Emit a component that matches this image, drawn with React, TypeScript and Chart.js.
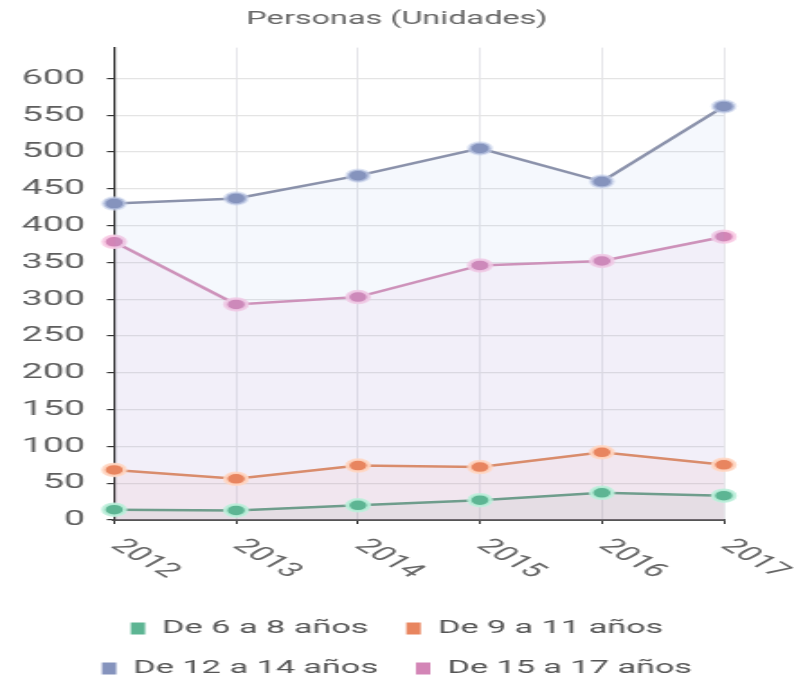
import React, { useEffect, useRef } from "react";
import { Chart, registerables } from "chart.js";

Chart.register(...registerables);

const years = ["2012", "2013", "2014", "2015", "2016", "2017"];
const seriesNames = ["De 6 a 8 años", "De 9 a 11 años", "De 12 a 14 años", "De 15 a 17 años"];
const age6to8 = [14, 13, 20, 27, 37, 33];
const age9to11 = [68, 56, 74, 72, 92, 75];
const age12to14 = [430, 437, 468, 505, 460, 562];
const age15to17 = [378, 293, 303, 346, 352, 385];
const yTickValues = [0, 50, 100, 150, 200, 250, 300, 350, 400, 450, 500, 550, 600];
const chartTitle = "Personas (Unidades)";

const pointColors = ["#5db593", "#e8855f", "#8593bd", "#d385b6"];
const lineColors = ["#6f9d8c", "#d98c6c", "#8b92ab", "#d48fb6"];
const haloColors = ["rgba(190,240,220,0.9)", "rgba(255,215,195,0.9)", "rgba(200,210,235,0.6)", "rgba(250,205,230,0.9)"];
const fillColors = ["rgba(120,135,130,0.10)", "rgba(235,140,140,0.09)", "rgba(140,175,230,0.09)", "rgba(215,140,200,0.09)"];

const CANVAS_W = 441;
const CANVAS_H = 684;
const FONT = "Roboto";

const rotatedXLabels = {
  id: "rotatedXLabels",
  afterDraw(chart: any) {
    const scale = chart.scales.x;
    const ctx = chart.ctx;
    ctx.save();
    ctx.font = `20px ${FONT}`;
    ctx.fillStyle = "#666";
    ctx.textAlign = "left";
    ctx.textBaseline = "middle";
    scale.ticks.forEach((t: any, i: number) => {
      const x = scale.getPixelForTick(i);
      ctx.save();
      ctx.translate(x + 1, scale.top + 23);
      ctx.rotate(Math.PI / 4);
      ctx.fillText(String(scale.getLabelForValue(t.value)), 0, 0);
      ctx.restore();
    });
    ctx.restore();
  },
};

export default function App() {
  const ref = useRef<HTMLCanvasElement | null>(null);

  useEffect(() => {
    if (!ref.current) return;
    const series = [age6to8, age9to11, age12to14, age15to17];
    const chart = new Chart(ref.current, {
      type: "line",
      data: {
        labels: years,
        datasets: series.map((d, i) => ({
          label: seriesNames[i],
          data: d,
          yAxisID: "y",
          borderColor: lineColors[i],
          backgroundColor: fillColors[i],
          borderWidth: 2.5,
          fill: "origin",
          tension: 0,
          pointRadius: 6,
          pointBackgroundColor: pointColors[i],
          pointBorderColor: haloColors[i],
          pointBorderWidth: 2.5,
        })),
      },
      options: {
        responsive: false,
        animation: false,
        layout: { padding: { left: 0, right: 0, top: 0, bottom: -4 } },
        plugins: {
          title: {
            display: true,
            text: chartTitle,
            color: "#666",
            font: { family: FONT, size: 18, weight: "normal" },
            padding: { top: 9, bottom: 17 },
          },
          legend: {
            position: "bottom",
            labels: {
              boxWidth: 8,
              boxHeight: 12,
              padding: 21,
              color: "#555",
              font: { family: FONT, size: 19 },
              generateLabels: (c: any) =>
                c.data.datasets.map((ds: any, i: number) => ({
                  text: ds.label,
                  fillStyle: pointColors[i],
                  strokeStyle: pointColors[i],
                  lineWidth: 0,
                  hidden: false,
                  datasetIndex: i,
                  fontColor: "#555",
                })),
            },
          },
          tooltip: { enabled: false },
        },
        scales: {
          x: {
            type: "category",
            offset: false,
            ticks: { display: false },
            grid: { color: "#e6e6ea", tickColor: "#333", tickLength: 4, lineWidth: 1 },
            border: { color: "#555", width: 2 },
            afterFit: (s: any) => {
              s.height = 78;
            },
          },
          y: {
            position: "left",
            min: 0,
            max: 642,
            ticks: {
              stepSize: 50,
              color: "#5e5e5e",
              padding: 12,
              font: { family: FONT, size: 21 },
            },
            afterBuildTicks: (s: any) => {
              s.ticks = yTickValues.map((v) => ({ value: v }));
            },
            grid: { color: "#e4e4e4", tickColor: "#333", tickLength: 4, lineWidth: 1.2 },
            border: { color: "#333", width: 1.2 },
          },
          ySpacer: {
            position: "right",
            display: true,
            ticks: { display: false },
            grid: { display: false, drawTicks: false },
            border: { display: false },
            afterFit: (s: any) => {
              s.width = 39;
            },
          },
        },
      },
      plugins: [rotatedXLabels],
    });
    return () => chart.destroy();
  }, []);

  return (
    <div style={{ position: "absolute", left: 0, top: 0, width: 794, height: 684, overflow: "hidden", background: "#fff" }}>
      <canvas
        ref={ref}
        width={CANVAS_W}
        height={CANVAS_H}
        style={{ width: "794px", height: "684px", display: "block" }}
      />
    </div>
  );
}
